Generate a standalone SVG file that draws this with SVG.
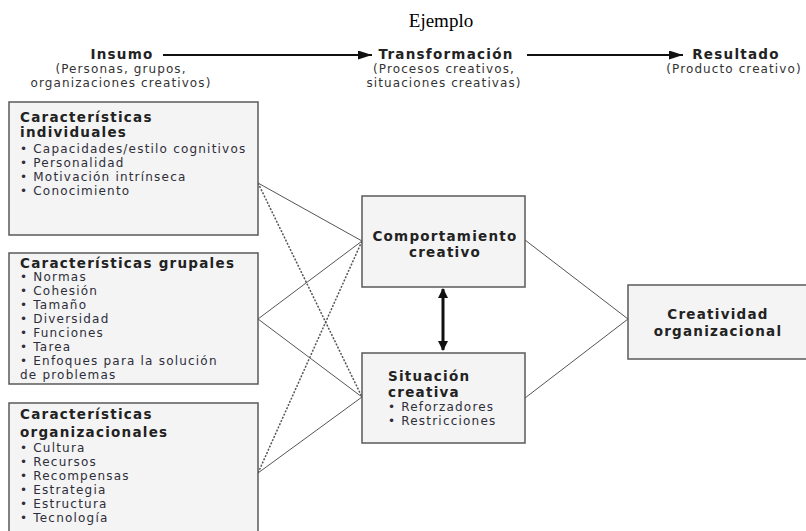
<svg xmlns="http://www.w3.org/2000/svg" width="806" height="531" viewBox="0 0 806 531">
  <style>
    .box { fill: #f4f4f4; stroke: #5a5a5a; stroke-width: 1.5; }
    .ttl { font-family: "DejaVu Sans", sans-serif; font-weight: bold; font-size: 13.5px; fill: #222; letter-spacing: 1.25px; }
    .itm { font-family: "DejaVu Sans", sans-serif; font-size: 12px; fill: #2e2e3a; letter-spacing: 1.2px; }
    .hd { font-family: "DejaVu Sans", sans-serif; font-weight: bold; font-size: 13.5px; fill: #222; letter-spacing: 1.25px; }
    .sub { font-family: "DejaVu Sans", sans-serif; font-size: 12px; fill: #333; letter-spacing: 1.1px; }
    .solid { stroke: #555; stroke-width: 1; fill: none; }
    .dot { stroke: #555; stroke-width: 1.5; stroke-dasharray: 2 1.5; fill: none; }
    .flow { stroke: #111; stroke-width: 2.2; fill: none; }
  </style>
  <defs>
    <marker id="head" viewBox="0 0 14 9" refX="14" refY="4.5" markerWidth="14" markerHeight="9" markerUnits="userSpaceOnUse" orient="auto">
      <path d="M0,0 L14,4.5 L0,9 z" fill="#111"/>
    </marker>
    <marker id="dhead" viewBox="0 0 10 10" refX="9" refY="5" markerWidth="11" markerHeight="10" markerUnits="userSpaceOnUse" orient="auto-start-reverse">
      <path d="M0,0 L10,5 L0,10 z" fill="#111"/>
    </marker>
  </defs>

  <rect width="806" height="531" fill="#ffffff"/>

  <!-- title -->
  <text x="441" y="27" text-anchor="middle" font-family="Liberation Serif, serif" font-size="19" fill="#000">Ejemplo</text>

  <!-- stage header -->
  <g id="header">
    <text class="hd" x="122" y="59" text-anchor="middle">Insumo</text>
    <text class="sub" x="121" y="73" text-anchor="middle">(Personas, grupos,</text>
    <text class="sub" x="121" y="87" text-anchor="middle">organizaciones creativos)</text>
    <text class="hd" x="446" y="59" text-anchor="middle">Transformación</text>
    <text class="sub" x="444" y="73" text-anchor="middle">(Procesos creativos,</text>
    <text class="sub" x="444" y="87" text-anchor="middle">situaciones creativas)</text>
    <text class="hd" x="736" y="59" text-anchor="middle">Resultado</text>
    <text class="sub" x="734" y="73" text-anchor="middle">(Producto creativo)</text>
    <line class="flow" x1="163" y1="55" x2="372" y2="55" marker-end="url(#head)"/>
    <line class="flow" x1="527" y1="55" x2="683" y2="55" marker-end="url(#head)"/>
  </g>

  <!-- connectors -->
  <g id="connectors">
    <line class="solid" x1="258" y1="183" x2="362" y2="241"/>
    <line class="dot" x1="258" y1="183" x2="362" y2="397"/>
    <line class="solid" x1="258" y1="319" x2="362" y2="241"/>
    <line class="solid" x1="258" y1="319" x2="362" y2="397"/>
    <line class="dot" x1="258" y1="473" x2="362" y2="241"/>
    <line class="solid" x1="258" y1="473" x2="362" y2="397"/>
    <line class="solid" x1="525" y1="240" x2="628" y2="319"/>
    <line class="solid" x1="525" y1="398" x2="628" y2="319"/>
    <line stroke="#111" stroke-width="3" x1="443" y1="289" x2="443" y2="350" marker-start="url(#dhead)" marker-end="url(#dhead)"/>
  </g>

  <g id="individuales">
    <rect class="box" x="9" y="102" width="249" height="133"/>
    <text class="ttl" x="20" y="122">Características</text>
    <text class="ttl" x="20" y="137">individuales</text>
    <text class="itm" x="20" y="153">• Capacidades/estilo cognitivos</text>
    <text class="itm" x="20" y="167">• Personalidad</text>
    <text class="itm" x="20" y="181">• Motivación intrínseca</text>
    <text class="itm" x="20" y="195">• Conocimiento</text>
  </g>

  <g id="grupales">
    <rect class="box" x="9" y="253" width="249" height="131"/>
    <text class="ttl" x="20" y="268">Características grupales</text>
    <text class="itm" x="20" y="281">• Normas</text>
    <text class="itm" x="20" y="295">• Cohesión</text>
    <text class="itm" x="20" y="309">• Tamaño</text>
    <text class="itm" x="20" y="323">• Diversidad</text>
    <text class="itm" x="20" y="337">• Funciones</text>
    <text class="itm" x="20" y="351">• Tarea</text>
    <text class="itm" x="20" y="365">• Enfoques para la solución</text>
    <text class="itm" x="20" y="379">de problemas</text>
  </g>

  <g id="organizacionales">
    <rect class="box" x="9" y="403" width="249" height="140"/>
    <text class="ttl" x="20" y="419">Características</text>
    <text class="ttl" x="20" y="437">organizacionales</text>
    <text class="itm" x="20" y="452">• Cultura</text>
    <text class="itm" x="20" y="466">• Recursos</text>
    <text class="itm" x="20" y="480">• Recompensas</text>
    <text class="itm" x="20" y="494">• Estrategia</text>
    <text class="itm" x="20" y="508">• Estructura</text>
    <text class="itm" x="20" y="522">• Tecnología</text>
  </g>

  <g id="comportamiento">
    <rect class="box" x="362" y="196" width="163" height="91"/>
    <text class="ttl" x="445" y="241" text-anchor="middle">Comportamiento</text>
    <text class="ttl" x="445" y="257" text-anchor="middle">creativo</text>
  </g>

  <g id="situacion">
    <rect class="box" x="362" y="353" width="163" height="90"/>
    <text class="ttl" x="388" y="381">Situación</text>
    <text class="ttl" x="388" y="397">creativa</text>
    <text class="itm" x="388" y="411">• Reforzadores</text>
    <text class="itm" x="388" y="425">• Restricciones</text>
  </g>

  <g id="creatividad">
    <rect class="box" x="628" y="285" width="180" height="74"/>
    <text class="ttl" x="718" y="319" text-anchor="middle">Creatividad</text>
    <text class="ttl" x="718" y="336" text-anchor="middle">organizacional</text>
  </g>
</svg>
